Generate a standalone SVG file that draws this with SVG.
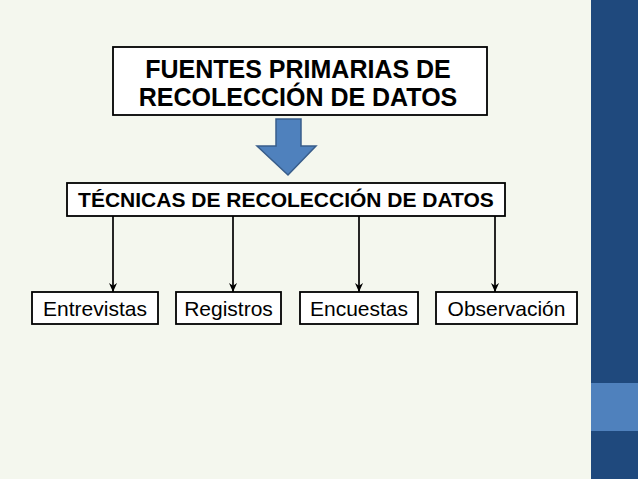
<svg xmlns="http://www.w3.org/2000/svg" width="638" height="479" viewBox="0 0 638 479">
<style>
.box{fill:#ffffff;stroke:#000000;stroke-width:1.8}
.tb{font-family:"Liberation Sans",Arial,sans-serif;font-weight:bold;fill:#000;text-anchor:middle}
.t{font-family:"Liberation Sans",Arial,sans-serif;font-size:21px;fill:#000;text-anchor:middle}
.ln{stroke:#000;stroke-width:1.7;fill:none;marker-end:url(#ah)}
</style>
<defs>
<marker id="ah" viewBox="0 0 10 10" refX="10" refY="5" markerWidth="9" markerHeight="9" markerUnits="userSpaceOnUse" orient="auto">
<path d="M0,0.5 L10,5 L0,9.5 L3,5 Z" fill="#000"/>
</marker>
</defs>
<rect width="638" height="479" fill="#F4F7EE"/>
<rect x="591" y="0" width="47" height="479" fill="#1F497D"/>
<rect x="591" y="383" width="47" height="48" fill="#4F81BD"/>
<g id="fuentes">
<rect class="box" x="113" y="47" width="374" height="68"/>
<text class="tb" x="298" y="78" font-size="25">FUENTES PRIMARIAS DE</text>
<text class="tb" x="298" y="106" font-size="25">RECOLECCIÓN DE DATOS</text>
</g>
<g id="flecha">
<path d="M276,119 L301,119 L301,146 L316,146 L288,175 L257,146 L276,146 Z" fill="#4F81BD" stroke="#385D8A" stroke-width="1.5"/>
</g>
<g id="tecnicas">
<rect class="box" x="67" y="183" width="438" height="33"/>
<text class="tb" x="286" y="207" font-size="21">TÉCNICAS DE RECOLECCIÓN DE DATOS</text>
</g>
<g id="connectors">
<line class="ln" x1="113" y1="216" x2="113" y2="292"/>
<line class="ln" x1="233" y1="216" x2="233" y2="292"/>
<line class="ln" x1="359" y1="216" x2="359" y2="292"/>
<line class="ln" x1="495" y1="216" x2="495" y2="292"/>
</g>
<g id="entrevistas">
<rect class="box" x="32" y="292" width="126" height="32"/>
<text class="t" x="95" y="316">Entrevistas</text>
</g>
<g id="registros">
<rect class="box" x="176" y="292" width="105" height="32"/>
<text class="t" x="228.5" y="316">Registros</text>
</g>
<g id="encuestas">
<rect class="box" x="300" y="292" width="118" height="32"/>
<text class="t" x="359" y="316">Encuestas</text>
</g>
<g id="observacion">
<rect class="box" x="436" y="292" width="141" height="32"/>
<text class="t" x="506.5" y="316">Observación</text>
</g>
</svg>
